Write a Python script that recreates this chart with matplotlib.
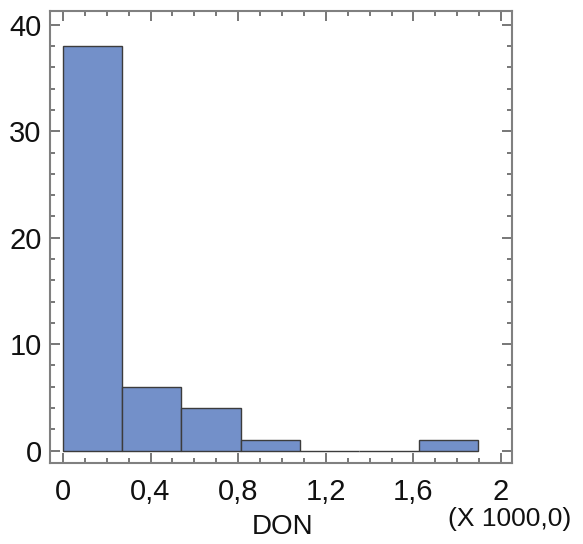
import numpy as np
import matplotlib.pyplot as plt
from matplotlib.ticker import MultipleLocator, FuncFormatter

plt.rcParams['font.family'] = ['Liberation Sans', 'DejaVu Sans']

# histogram of DON (in thousands)
bin_edges = np.linspace(0, 1.894, 8)
counts = [38, 6, 4, 1, 0, 0, 1]

fig = plt.figure(figsize=(5.83, 5.44), dpi=100)
ax = fig.add_axes([50 / 583, 1 - 463 / 544, 462 / 583, 452 / 544])

ax.bar(bin_edges[:-1], counts, width=np.diff(bin_edges), align='edge',
       color='#7390C9', edgecolor='#3c3c3c', linewidth=1.0)

ax.set_xlim(-0.059, 2.05)
ax.set_ylim(-1.17, 41.3)

ax.xaxis.set_major_locator(MultipleLocator(0.4))
ax.xaxis.set_minor_locator(MultipleLocator(0.1))
ax.yaxis.set_major_locator(MultipleLocator(10))
ax.yaxis.set_minor_locator(MultipleLocator(2))
ax.xaxis.set_major_formatter(FuncFormatter(lambda v, p: ('%g' % round(v, 1)).replace('.', ',')))

for s in ax.spines.values():
    s.set_color('#808080')
    s.set_linewidth(1.5)

ax.tick_params(which='both', direction='in', top=True, right=True,
               color='#606060', width=1.2, labelsize=21, labelcolor='#111111')
ax.tick_params(which='major', length=7)
ax.tick_params(which='minor', length=3.5)
ax.tick_params(axis='x', pad=11)
ax.tick_params(axis='y', pad=6)

fig.text(283 / 583, 1 - 527 / 544, 'DON', ha='center', va='center',
         fontsize=20, color='#111111')
fig.text(510 / 583, 1 - 519 / 544, '(X 1000,0)', ha='center', va='center',
         fontsize=19, color='#111111')

fig.savefig('out.png', dpi=100)
